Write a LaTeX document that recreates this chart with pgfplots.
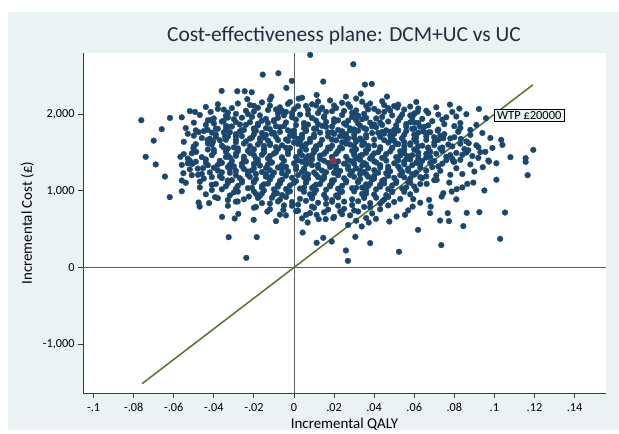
\documentclass[border=0pt]{standalone}
\usepackage{fontspec}
\setmainfont{Carlito}
\usepackage{pgfplots}
\pgfplotsset{compat=1.18}
\usepackage{pgfplotstable}
\definecolor{bgc}{RGB}{234,242,243}
\definecolor{stnavy}{RGB}{26,71,111}
\definecolor{stmaroon}{RGB}{144,53,59}
\definecolor{stgreen}{RGB}{85,117,47}
\definecolor{axgray}{RGB}{60,60,60}
\definecolor{zgray}{RGB}{95,95,95}
\definecolor{titc}{RGB}{35,45,60}

\pgfplotstableread{
x y
-0.0762 1922
-0.0619 1952
-0.0494 2030
-0.0416 2030
-0.0418 1922
-0.0361 2304
-0.0283 2300
-0.0246 2300
-0.0211 2287
-0.0233 2196
-0.0156 2517
-0.0740 1444
-0.0567 1444
-0.0476 1766
-0.0431 1796
-0.0431 1665
-0.0404 1643
-0.0502 1557
-0.0488 1509
-0.0351 1913
-0.0341 1796
-0.0344 1708
0.0081 2774
0.0296 2652
-0.0078 2535
-0.0011 2435
-0.0038 2343
0.0146 2426
0.0354 2387
0.0388 2396
0.0113 2252
0.0259 2230
0.0333 2269
0.0464 2230
0.0023 2204
-0.0113 2230
0.0515 2087
0.0778 2126
0.0825 2073
0.0923 2069
0.0958 1948
0.1034 1665
0.1194 1535
0.0599 2000
0.0617 2034
0.0602 1891
0.0717 1786
0.0820 1770
0.0699 1700
0.0833 1678
0.0872 1622
0.0745 1687
0.0955 1509
0.1156 1427
0.0629 1839
0.0645 1774
-0.0644 1187
-0.0620 918
-0.0560 1135
-0.0507 1352
-0.0479 1209
-0.0454 1296
-0.0476 848
-0.0471 795
-0.0424 840
-0.0394 918
-0.0359 661
-0.0326 396
-0.0238 126
-0.0296 639
-0.0278 700
-0.0281 861
-0.0201 622
-0.0186 396
-0.0225 926
-0.0133 730
-0.0552 1231
-0.0560 1339
-0.0053 752
0.0043 456
0.0113 322
0.0146 387
0.0188 339
0.0259 222
0.0269 87
0.0306 400
0.0380 318
0.0524 205
0.0068 587
0.0123 631
0.0158 631
0.0196 644
0.0231 730
0.0338 535
0.0409 635
0.0476 600
0.0512 665
0.0554 687
0.0373 587
0.0060 687
-0.0086 970
-0.0010 805
0.0113 687
0.0619 491
0.0735 292
0.0729 613
0.0773 605
0.0767 709
0.0845 540
0.0862 713
0.0925 722
0.1053 717
0.1029 374
0.1166 1205
0.1156 1378
0.0679 709
0.0682 795
0.0674 883
0.0737 926
0.0745 970
0.0812 1022
0.0787 991
0.0775 1108
0.0865 1091
0.0895 1108
0.0900 1252
0.0942 1309
0.0973 1382
0.0712 1144
0.0662 1091
0.0595 892
0.0592 795
0.0795 1382
-0.012 2190
0.004 2215
0.018 2180
0.031 2205
0.044 2170
-0.002 2160
-0.028 2140
-0.016 2155
0.009 2130
0.024 2150
0.038 2140
0.052 2125
0.061 2160
-0.038 2130
-0.044 2095
-0.031 2080
-0.020 2110
-0.007 2090
0.002 2105
0.014 2085
0.028 2095
0.036 2110
0.047 2080
0.058 2100
0.071 2090
-0.052 2040
-0.035 2060
-0.024 2045
-0.013 2055
-0.004 2030
0.007 2060
0.019 2040
0.031 2050
0.042 2035
0.055 2060
0.066 2045
0.079 2030
-0.047 1990
-0.029 2005
-0.017 1985
-0.008 2010
0.003 1995
0.012 2015
0.024 1990
0.035 2005
0.049 1985
0.060 2010
0.072 1995
0.086 2000
-0.056 1960
-0.040 1945
-0.026 1955
-0.014 1940
-0.001 1960
0.009 1950
0.020 1935
0.029 1965
0.041 1945
0.053 1955
0.064 1940
0.076 1960
-0.050 1890
-0.036 1905
-0.022 1895
-0.010 1910
0.005 1885
0.016 1900
0.027 1915
0.038 1890
0.047 1905
0.058 1895
0.069 1910
0.083 1885
-0.044 1860
-0.031 1840
-0.018 1855
-0.005 1845
0.007 1865
0.019 1840
0.033 1850
0.044 1860
0.056 1840
0.067 1855
0.080 1845
0.091 1860
-0.066 1805
-0.049 1790
-0.038 1810
-0.025 1795
-0.012 1805
-0.003 1790
0.011 1810
0.022 1795
0.036 1805
0.046 1790
0.059 1810
0.072 1800
0.088 1795
-0.053 1745
-0.041 1760
-0.029 1740
-0.016 1755
0.000 1745
0.013 1760
0.026 1740
0.039 1755
0.050 1745
0.062 1760
0.075 1740
0.094 1755
-0.046 1690
-0.033 1710
-0.021 1695
-0.009 1705
0.004 1690
0.017 1710
0.030 1695
0.043 1705
0.054 1690
0.066 1710
0.080 1700
0.098 1690
-0.070 1655
-0.055 1640
-0.037 1660
-0.024 1645
-0.013 1655
0.008 1640
0.021 1660
0.034 1645
0.048 1655
0.061 1640
0.071 1660
0.086 1645
-0.049 1610
-0.036 1590
-0.018 1605
-0.006 1595
0.006 1610
0.019 1590
0.028 1605
0.040 1595
0.052 1610
0.064 1590
0.077 1605
0.091 1595
0.104 1600
-0.043 1540
-0.028 1555
-0.015 1545
-0.002 1560
0.011 1540
0.024 1555
0.037 1545
0.049 1560
0.060 1540
0.073 1555
0.085 1545
0.099 1560
-0.051 1490
-0.034 1510
-0.022 1495
-0.009 1505
0.003 1490
0.016 1510
0.030 1495
0.042 1505
0.055 1490
0.068 1510
0.081 1495
0.093 1505
-0.046 1440
-0.033 1460
-0.025 1445
-0.012 1455
0.001 1440
0.013 1460
0.026 1445
0.039 1455
0.051 1440
0.062 1460
0.076 1445
0.089 1455
0.108 1440
-0.052 1395
-0.044 1410
-0.031 1390
-0.018 1405
-0.005 1395
0.009 1410
0.022 1385
0.033 1405
0.046 1395
0.058 1410
0.070 1390
0.083 1405
0.097 1395
-0.069 1345
-0.053 1360
-0.038 1340
-0.026 1355
-0.013 1345
0.000 1360
0.012 1340
0.025 1355
0.036 1345
0.050 1360
0.063 1340
0.074 1355
0.088 1345
0.101 1360
-0.048 1290
-0.033 1310
-0.020 1295
-0.008 1305
0.005 1290
0.018 1310
0.031 1295
0.043 1305
0.057 1290
0.069 1310
0.081 1295
-0.042 1240
-0.029 1260
-0.016 1245
-0.003 1255
0.010 1240
0.023 1260
0.035 1245
0.048 1255
0.061 1240
0.073 1260
-0.051 1205
-0.037 1190
-0.023 1210
-0.011 1195
0.002 1205
0.015 1190
0.028 1210
0.040 1195
0.053 1205
0.066 1190
0.078 1210
-0.045 1160
-0.031 1140
-0.019 1155
-0.006 1145
0.007 1160
0.020 1140
0.033 1155
0.045 1145
0.058 1160
0.070 1140
0.101 1145
-0.054 1105
-0.039 1090
-0.026 1110
-0.013 1095
0.000 1105
0.013 1090
0.026 1110
0.038 1095
0.051 1105
0.063 1090
-0.047 1045
-0.034 1060
-0.021 1040
-0.008 1055
0.005 1045
0.018 1060
0.031 1040
0.043 1055
0.056 1045
0.084 1045
-0.056 995
-0.041 1010
-0.028 990
-0.015 1005
-0.002 995
0.011 1010
0.024 990
0.036 1005
0.049 995
0.061 1010
0.095 1005
-0.044 955
-0.032 940
-0.019 960
-0.006 945
0.008 955
0.021 940
0.034 960
0.046 945
0.058 955
-0.038 905
-0.025 890
-0.011 910
0.003 895
0.016 905
0.029 890
0.041 910
0.053 895
0.081 890
-0.029 860
-0.016 840
-0.001 855
0.012 845
0.025 860
0.038 840
0.050 855
0.063 845
-0.033 805
-0.019 790
-0.005 810
0.009 795
0.022 805
0.035 790
0.047 810
-0.012 760
0.002 740
0.017 755
0.030 745
0.043 760
0.057 745
-0.007 690
0.008 710
0.024 695
0.039 705
0.004 640
0.020 660
0.036 645
0.031 610
-0.009 605
0.027 555
-0.022 2120
-0.003 2135
0.011 2115
0.027 2130
0.045 2120
-0.038 2070
-0.018 2085
0.000 2065
0.021 2080
0.040 2070
0.062 2075
-0.033 2020
-0.020 2035
-0.001 2015
0.016 2030
0.029 2020
0.045 2030
0.067 2015
-0.034 1980
-0.021 1965
-0.005 1985
0.015 1970
0.032 1980
0.044 1965
0.058 1985
0.081 1970
-0.043 1920
-0.030 1935
-0.016 1915
0.001 1930
0.022 1920
0.034 1935
0.052 1915
0.074 1930
-0.040 1880
-0.027 1865
-0.013 1885
0.012 1870
0.025 1880
0.040 1865
0.062 1885
0.075 1870
-0.054 1820
-0.033 1835
-0.020 1815
-0.007 1830
0.005 1820
0.016 1835
0.028 1815
0.041 1830
0.051 1820
0.065 1835
0.083 1820
-0.045 1780
-0.032 1765
-0.019 1785
-0.007 1770
0.006 1780
0.019 1765
0.032 1785
0.044 1770
0.056 1780
0.068 1765
0.082 1780
-0.050 1720
-0.039 1735
-0.026 1715
-0.014 1730
-0.002 1720
0.010 1735
0.023 1715
0.036 1730
0.048 1720
0.060 1735
0.073 1720
0.088 1730
-0.042 1680
-0.029 1665
-0.017 1685
-0.004 1670
0.002 1680
0.014 1665
0.027 1685
0.040 1670
0.054 1680
0.066 1665
0.078 1685
-0.043 1620
-0.029 1635
-0.012 1620
0.000 1630
0.013 1615
0.024 1635
0.035 1620
0.047 1630
0.058 1620
0.070 1635
0.083 1615
-0.050 1580
-0.035 1565
-0.022 1585
-0.009 1570
0.004 1580
0.017 1565
0.030 1585
0.043 1570
0.055 1580
0.067 1565
0.079 1580
0.092 1570
-0.040 1535
-0.028 1520
-0.015 1530
-0.003 1515
0.010 1535
0.022 1520
0.036 1530
0.048 1515
0.061 1535
0.074 1520
0.087 1530
-0.055 1480
-0.041 1465
-0.029 1485
-0.016 1470
-0.003 1480
0.009 1465
0.021 1485
0.034 1470
0.046 1480
0.059 1465
0.071 1485
0.084 1470
-0.053 1420
-0.032 1435
-0.019 1420
-0.006 1430
0.006 1415
0.019 1435
0.031 1420
0.044 1430
0.056 1415
0.066 1435
0.079 1420
0.092 1430
-0.049 1380
-0.036 1365
-0.024 1385
-0.011 1370
0.004 1380
0.017 1365
0.029 1385
0.041 1370
0.055 1380
0.068 1365
0.080 1380
-0.043 1335
-0.030 1320
-0.017 1330
-0.004 1315
0.009 1335
0.021 1320
0.034 1330
0.047 1315
0.059 1335
0.072 1320
-0.052 1280
-0.038 1265
-0.025 1285
-0.012 1270
0.001 1280
0.014 1265
0.027 1285
0.040 1270
0.053 1280
0.066 1265
-0.046 1220
-0.032 1235
-0.019 1220
-0.006 1230
0.007 1215
0.020 1235
0.033 1220
0.046 1230
0.059 1215
0.084 1220
-0.041 1180
-0.027 1165
-0.014 1185
-0.001 1170
0.012 1180
0.025 1165
0.037 1185
0.050 1170
0.063 1180
-0.047 1120
-0.033 1135
-0.020 1120
-0.007 1130
0.006 1115
0.019 1135
0.032 1120
0.044 1130
0.057 1115
-0.041 1080
-0.028 1065
-0.015 1085
-0.002 1070
0.011 1080
0.024 1065
0.036 1085
0.049 1070
-0.036 1020
-0.023 1035
-0.010 1020
0.003 1030
0.016 1015
0.029 1035
0.041 1020
0.054 1030
-0.030 980
-0.016 965
-0.003 985
0.010 970
0.023 980
0.036 965
0.049 985
-0.017 935
-0.004 920
0.009 930
0.022 915
0.035 935
0.047 920
-0.033 880
-0.007 885
0.006 870
0.019 880
0.032 865
0.045 885
-0.012 835
0.002 820
0.016 830
0.029 815
0.043 835
-0.020 780
0.010 780
0.025 765
0.038 785
0.001 735
0.015 720
0.032 730
0.028 680
-0.004 680
-0.029 1897
-0.004 1893
0.020 1898
0.043 1892
-0.024 1862
0.001 1858
0.026 1861
0.051 1857
-0.039 1813
-0.014 1817
0.010 1812
0.035 1818
0.060 1814
-0.026 1792
0.000 1788
0.028 1791
0.052 1787
-0.035 1762
-0.010 1758
0.017 1763
0.042 1757
0.067 1761
-0.020 1737
0.004 1733
0.030 1736
0.055 1732
-0.039 1702
-0.015 1698
0.010 1703
0.036 1697
0.061 1701
-0.034 1667
-0.008 1663
0.019 1668
0.045 1662
0.072 1666
-0.017 1642
0.003 1638
0.031 1643
0.055 1637
-0.041 1602
-0.012 1598
0.013 1603
0.034 1597
0.058 1601
0.070 1598
-0.030 1567
-0.004 1563
0.023 1568
0.049 1562
0.074 1566
-0.020 1542
0.006 1538
0.031 1543
0.055 1537
-0.040 1502
-0.015 1498
0.010 1503
0.036 1497
0.062 1501
0.086 1499
-0.020 1467
0.004 1463
0.030 1468
0.053 1462
0.078 1466
-0.034 1442
-0.006 1438
0.019 1443
0.045 1437
0.068 1441
-0.025 1402
0.002 1398
0.027 1403
0.052 1397
0.076 1401
-0.044 1367
-0.018 1363
0.008 1368
0.035 1362
0.061 1366
-0.032 1342
-0.006 1338
0.019 1343
0.043 1337
-0.040 1302
-0.014 1298
0.012 1303
0.037 1297
0.063 1301
-0.021 1267
0.005 1263
0.033 1268
0.057 1262
-0.036 1242
-0.010 1238
0.016 1243
0.042 1237
-0.029 1202
-0.004 1198
0.022 1203
0.047 1197
0.071 1201
-0.036 1167
-0.012 1163
0.015 1168
0.040 1162
0.064 1166
-0.026 1132
0.001 1128
0.026 1133
0.051 1127
-0.033 1102
-0.007 1098
0.019 1103
0.045 1097
-0.016 1062
0.010 1058
0.037 1063
0.060 1057
-0.029 1027
-0.004 1023
0.022 1028
0.047 1022
-0.020 992
0.005 988
0.030 993
0.055 987
-0.010 952
0.015 948
0.040 953
-0.018 907
0.009 903
0.035 908
-0.008 862
0.019 858
0.044 863
-0.023 2002
0.007 1998
0.030 2003
0.054 1997
-0.033 1957
-0.008 1953
0.015 1958
0.036 1952
0.059 1956
-0.009 2062
0.013 2058
0.037 2063
-0.010 1922
0.011 1918
0.031 1923
-0.018 1877
0.005 1873
0.032 1878
0.056 1872
-0.034 1847
-0.009 1843
0.014 1848
0.039 1842
-0.020 1802
0.006 1798
0.030 1803
0.050 1797
-0.027 1777
-0.001 1773
0.024 1778
0.048 1772
-0.011 1747
0.020 1743
0.045 1748
-0.029 1712
0.000 1708
0.025 1713
0.049 1707
-0.022 1682
0.008 1678
0.033 1683
0.060 1677
-0.003 1652
0.026 1648
0.050 1653
-0.025 1617
0.002 1613
0.026 1618
0.051 1612
-0.015 1587
0.011 1583
0.037 1588
0.062 1582
-0.033 1552
-0.008 1548
0.018 1553
0.043 1547
0.067 1552
-0.023 1522
0.003 1518
0.029 1523
0.053 1517
-0.010 1487
0.015 1483
0.040 1488
0.066 1482
-0.029 1457
0.007 1453
0.033 1458
0.057 1452
-0.013 1422
0.013 1418
0.038 1423
0.062 1417
-0.037 1392
-0.012 1388
0.015 1393
0.040 1387
0.064 1392
-0.020 1352
0.006 1348
0.030 1353
0.055 1347
-0.026 1322
0.001 1318
0.027 1323
0.052 1317
-0.032 1287
-0.006 1283
0.021 1288
0.047 1282
-0.023 1252
0.004 1248
0.029 1253
0.054 1247
-0.014 1217
0.011 1213
0.036 1218
0.060 1212
-0.022 1182
0.005 1178
0.030 1183
0.055 1177
-0.012 1147
0.014 1143
0.039 1148
-0.020 1112
0.006 1108
0.032 1113
0.058 1107
-0.008 1077
0.018 1073
0.043 1078
-0.016 1042
0.009 1038
0.034 1043
-0.012 2112
0.006 2108
0.020 2113
0.050 2107
0.012 2167
0.034 2163
-0.006 2047
0.025 2043
0.048 2048
}\cloud

\begin{document}
\begin{tikzpicture}
\fill[white] (0,0) rectangle (619bp,434bp);
\fill[bgc] (8bp,4bp) rectangle (619bp,422bp);
\node[font=\fontsize{21.5}{24}\selectfont, text=titc] at (344bp,398bp) {Cost-effectiveness plane: DCM+UC vs UC};
\begin{axis}[
  at={(83bp,41bp)}, anchor=south west,
  scale only axis, width=523bp, height=340bp,
  xmin=-0.1053, xmax=0.1557, ymin=-1638, ymax=2799,
  axis x line*=bottom, axis y line*=left,
  axis line style={draw=axgray, line width=0.9bp, -},
  axis background/.style={fill=white},
  xtick={-0.1,-0.08,-0.06,-0.04,-0.02,0,0.02,0.04,0.06,0.08,0.1,0.12,0.14},
  xticklabels={-.1,-.08,-.06,-.04,-.02,0,.02,.04,.06,.08,.1,.12,.14},
  ytick={-1000,0,1000,2000},
  yticklabels={{-1,000},0,{1,000},{2,000}},
  tick align=outside, major tick length=5bp,
  tick style={draw=axgray, line width=0.9bp},
  tick label style={font=\fontsize{12.3}{14}\selectfont, text=black},
  xticklabel style={yshift=-2bp},
  xlabel={Incremental QALY}, ylabel={Incremental Cost (£)},
  label style={font=\fontsize{15}{18}\selectfont, text=black},
  xlabel style={yshift=1bp},
  ylabel style={yshift=2bp},
  clip=true,
]
\addplot[zgray, line width=0.9bp] coordinates {(0,-1638) (0,2799)};
\addplot[zgray, line width=0.9bp] coordinates {(-0.1053,0) (0.1557,0)};
\addplot[only marks, mark=*, mark size=2.9bp, mark options={draw=stnavy, fill=stnavy, line width=0.3bp}] table {\cloud};
\addplot[stgreen, line width=1.5bp] coordinates {(-0.0758,-1516) (0.1192,2384)};
\addplot[only marks, mark=*, mark size=3.2bp, mark options={draw=stmaroon, fill=stmaroon}] coordinates {(0.0196,1390)};
\node[anchor=west, draw=black, fill=bgc, line width=0.7bp, inner xsep=3bp, inner ysep=1.6bp, font=\fontsize{12.5}{14}\selectfont] at (axis cs:0.0997,1987) {WTP £20000};
\end{axis}
\end{tikzpicture}
\end{document}
